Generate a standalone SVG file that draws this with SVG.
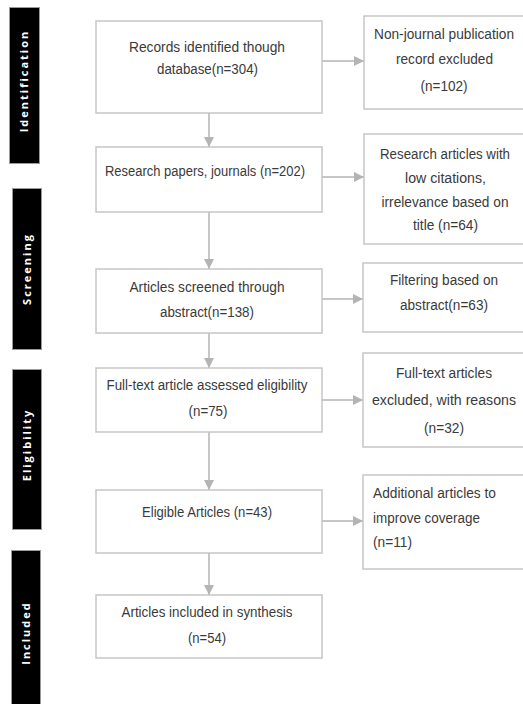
<svg xmlns="http://www.w3.org/2000/svg" width="523" height="704" viewBox="0 0 523 704">
<defs>
<marker id="ah" markerWidth="11" markerHeight="11" refX="10" refY="5" orient="auto" markerUnits="userSpaceOnUse">
<path d="M0,0 L10,5 L0,10 Z" fill="#b4b4b4"/>
</marker>
<style>
.box{fill:#fff;stroke:#c6c6c6;stroke-width:1.5}
.bar{fill:#000;stroke:#9a9a9a;stroke-width:1}
.t{font-family:"Liberation Sans",Arial,sans-serif;font-size:14px;fill:#3a3a3a;text-anchor:middle}
.tl{text-anchor:start}
.side{font-family:"Open Sans","DejaVu Sans",sans-serif;font-weight:bold;font-size:11px;letter-spacing:2px;fill:#fff;text-anchor:middle}
.c{stroke:#b4b4b4;stroke-width:1.5;fill:none;marker-end:url(#ah)}
</style>
</defs>
<rect width="523" height="704" fill="#fff"/>
<g id="stages">
<g id="stage-identification"><rect class="bar" x="9.5" y="7.5" width="30" height="156"/><text class="side" transform="translate(28,81) rotate(-90)">Identification</text></g>
<g id="stage-screening"><rect class="bar" x="12.5" y="188.5" width="29" height="161"/><text class="side" transform="translate(31,269) rotate(-90)">Screening</text></g>
<g id="stage-eligibility"><rect class="bar" x="12.5" y="369.5" width="29" height="160"/><text class="side" transform="translate(31,445) rotate(-90)">Eligibility</text></g>
<g id="stage-included"><rect class="bar" x="11.5" y="550.5" width="29" height="160"/><text class="side" transform="translate(30,633) rotate(-90)">Included</text></g>
</g>
<g id="connectors">
<line class="c" x1="322" y1="61" x2="364" y2="61"/>
<line class="c" x1="209" y1="113" x2="209" y2="147"/>
<line class="c" x1="322" y1="177" x2="364" y2="177"/>
<line class="c" x1="209" y1="212" x2="209" y2="269"/>
<line class="c" x1="322" y1="299" x2="363" y2="299"/>
<line class="c" x1="209" y1="333" x2="209" y2="368"/>
<line class="c" x1="322" y1="400" x2="363" y2="400"/>
<line class="c" x1="209" y1="432" x2="209" y2="490"/>
<line class="c" x1="322" y1="521" x2="363" y2="521"/>
<line class="c" x1="209" y1="553" x2="209" y2="595"/>
</g>
<g id="n1"><rect class="box" x="96" y="21" width="226" height="92"/><text class="t" x="207" y="52" textLength="156" lengthAdjust="spacingAndGlyphs">Records identified though</text><text class="t" x="207.5" y="74" textLength="101" lengthAdjust="spacingAndGlyphs">database(n=304)</text></g>
<g id="x1"><rect class="box" x="364" y="16" width="170" height="93"/><text class="t" x="444" y="39" textLength="140" lengthAdjust="spacingAndGlyphs">Non-journal publication</text><text class="t" x="444.5" y="64" textLength="97" lengthAdjust="spacingAndGlyphs">record excluded</text><text class="t" x="444" y="91" textLength="47" lengthAdjust="spacingAndGlyphs">(n=102)</text></g>
<g id="n2"><rect class="box" x="96" y="147" width="226" height="65"/><text class="t" x="205" y="176" textLength="200" lengthAdjust="spacingAndGlyphs">Research papers, journals (n=202)</text></g>
<g id="x2"><rect class="box" x="364" y="134" width="170" height="110"/><text class="t" x="445" y="159" textLength="130" lengthAdjust="spacingAndGlyphs">Research articles with</text><text class="t" x="445.5" y="183" textLength="81" lengthAdjust="spacingAndGlyphs">low citations,</text><text class="t" x="445" y="207" textLength="127" lengthAdjust="spacingAndGlyphs">irrelevance based on</text><text class="t" x="445.5" y="230" textLength="65" lengthAdjust="spacingAndGlyphs">title (n=64)</text></g>
<g id="n3"><rect class="box" x="96" y="269" width="226" height="64"/><text class="t" x="207" y="292" textLength="155" lengthAdjust="spacingAndGlyphs">Articles screened through</text><text class="t" x="207" y="317" textLength="94" lengthAdjust="spacingAndGlyphs">abstract(n=138)</text></g>
<g id="x3"><rect class="box" x="363" y="263" width="170" height="69"/><text class="t" x="444" y="285" textLength="108" lengthAdjust="spacingAndGlyphs">Filtering based on</text><text class="t" x="444" y="310" textLength="88" lengthAdjust="spacingAndGlyphs">abstract(n=63)</text></g>
<g id="n4"><rect class="box" x="96" y="368" width="226" height="64"/><text class="t" x="207" y="390" textLength="201" lengthAdjust="spacingAndGlyphs">Full-text article assessed eligibility</text><text class="t" x="208" y="416" textLength="39" lengthAdjust="spacingAndGlyphs">(n=75)</text></g>
<g id="x4"><rect class="box" x="363" y="353" width="170" height="94"/><text class="t" x="444" y="378" textLength="96" lengthAdjust="spacingAndGlyphs">Full-text articles</text><text class="t" x="444" y="405" textLength="144" lengthAdjust="spacingAndGlyphs">excluded, with reasons</text><text class="t" x="444" y="433" textLength="40" lengthAdjust="spacingAndGlyphs">(n=32)</text></g>
<g id="n5"><rect class="box" x="96" y="490" width="226" height="63"/><text class="t" x="207" y="517" textLength="130" lengthAdjust="spacingAndGlyphs">Eligible Articles (n=43)</text></g>
<g id="x5"><rect class="box" x="363" y="475" width="170" height="94"/><text class="t tl" x="373" y="498" textLength="123" lengthAdjust="spacingAndGlyphs">Additional articles to</text><text class="t tl" x="373" y="523" textLength="107" lengthAdjust="spacingAndGlyphs">improve coverage</text><text class="t tl" x="373" y="547" textLength="39" lengthAdjust="spacingAndGlyphs">(n=11)</text></g>
<g id="n6"><rect class="box" x="96" y="595" width="226" height="63"/><text class="t" x="207" y="617" textLength="171" lengthAdjust="spacingAndGlyphs">Articles included in synthesis</text><text class="t" x="207" y="643" textLength="38" lengthAdjust="spacingAndGlyphs">(n=54)</text></g>
</svg>
